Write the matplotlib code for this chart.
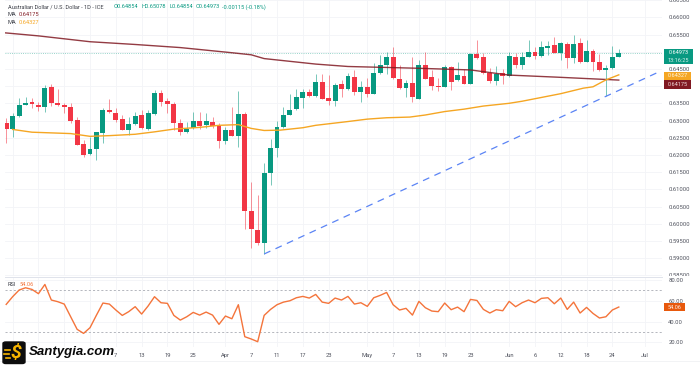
from matplotlib import pyplot as plt
from matplotlib.patches import FancyBboxPatch, Rectangle
from matplotlib.ticker import FormatStrFormatter

plt.rcParams['font.family'] = ['Roboto', 'DejaVu Sans']

# daily candles, bar 0 is 12 Feb, weekdays only
opens = [.6292, .6275, .6313, .6346, .6353, .6344, .6339, .6396, .6352, .6344,
         .6338, .6302, .6231, .6203, .6217, .6265, .6330, .6323, .6304, .6272,
         .6290, .6316, .6275, .6320, .6380, .6357, .6349, .6293, .6266, .6277,
         .6300, .6287, .6295, .6285, .6240, .6271, .6256, .6320, .6038, .5982,
         .5943, .6147, .6219, .6281, .6316, .6332, .6366, .6382, .6371, .6413,
         .6365, .6358, .6406, .6391, .6426, .6382, .6397, .6378, .6438, .6460,
         .6484, .6422, .6394, .6409, .6362, .6462, .6426, .6401, .6398, .6455,
         .6417, .6429, .6407, .6492, .6484, .6439, .6415, .6437, .6428, .6486,
         .6460, .6485, .6499, .6488, .6511, .6519, .6495, .6523, .6483, .6524,
         .6471, .6503, .6471, .6448, .6453, .64854]
closes = [.6275, .6314, .6345, .6352, .6347, .6338, .6394, .6350, .6344, .6339,
          .6300, .6230, .6200, .6218, .6268, .6330, .6325, .6301, .6272, .6289,
          .6314, .6277, .6321, .6380, .6353, .6349, .6293, .6266, .6276, .6300,
          .6285, .6298, .6284, .6240, .6271, .6256, .6320, .6038, .5985, .5943,
          .6147, .6220, .6282, .6317, .6331, .6367, .6382, .6371, .6412, .6363,
          .6357, .6402, .6391, .6428, .6382, .6397, .6376, .6438, .6461, .6485,
          .6423, .6394, .6408, .6367, .6462, .6422, .6400, .6398, .6455, .6413,
          .6431, .6407, .6492, .6482, .6437, .6415, .6435, .6428, .6487, .6460,
          .6485, .6499, .6488, .6513, .6517, .6497, .6525, .6482, .6523, .6470,
          .6501, .6470, .6447, .6454, .6484, .64973]
highs = [.6306, .6321, .6365, .6369, .6365, .6355, .6403, .6405, .6391, .6352,
         .6350, .6311, .6243, .6253, .6268, .6336, .6362, .6336, .6316, .6311,
         .6326, .6331, .6331, .6389, .6389, .6366, .6355, .6304, .6297, .6324,
         .6326, .6321, .6309, .6294, .6282, .6338, .6387, .6326, .6120, .6084,
         .6176, .6245, .6300, .6338, .6377, .6391, .6391, .6391, .6435, .6435,
         .6432, .6408, .6418, .6437, .6447, .6415, .6423, .6466, .6490, .6500,
         .6515, .6461, .6418, .6486, .6476, .6498, .6447, .6423, .6461, .6457,
         .6469, .6449, .6497, .6534, .6495, .6452, .6459, .6449, .6498, .6495,
         .6500, .6534, .6513, .6531, .6532, .6544, .6529, .6529, .6549, .6539,
         .6534, .6507, .6493, .6461, .6517, .65078]
lows = [.6234, .6253, .6311, .6344, .6335, .6329, .6326, .6342, .6342, .6321,
        .6294, .6228, .6193, .6200, .6185, .6234, .6321, .6297, .6271, .6258,
        .6287, .6274, .6272, .6316, .6342, .6321, .6271, .6258, .6263, .6274,
        .6274, .6277, .6277, .6219, .6232, .6255, .6224, .5985, .5930, .5938,
        .5912, .6113, .6195, .6277, .6316, .6331, .6335, .6369, .6369, .6362,
        .6345, .6342, .6369, .6389, .6374, .6355, .6369, .6376, .6435, .6435,
        .6420, .6391, .6369, .6355, .6362, .6420, .6389, .6387, .6396, .6389,
        .6415, .6405, .6406, .6479, .6435, .6408, .6403, .6406, .6426, .6452,
        .6449, .6484, .6478, .6486, .6491, .6495, .6476, .6452, .6466, .6466,
        .6469, .6445, .6445, .6371, .6451, .64854]

ma_slow_bars = [-0.3, 5, 13, 20, 27, 35, 38, 40, 44, 48, 53, 63.6, 72, 78, 85.4, 95]
ma_slow = [.6555, .6546, .6529, .6521, .6512, .6497, .6491, .6480, .6472, .6464,
           .6457, .6452, .6447, .6432, .6426, .64175]
ma_fast_bars = [1, 4, 10, 13, 16, 20, 23, 26, 30, 33, 36, 38, 40, 42.5, 46, 48, 53,
                56, 59, 62.6, 65, 68, 71, 74, 78, 80, 83, 86, 89.5, 91, 93, 95]
ma_fast = [.6274, .6266, .6262, .6254, .6256, .6260, .6267, .6275, .6280, .6286,
           .6288, .6277, .6271, .6272, .6279, .6286, .6297, .6304, .6308, .6310,
           .6316, .6326, .6333, .6342, .6350, .6356, .6367, .6378, .6394, .6398,
           .6418, .64327]

trend_bars = [40, 101.3]
trend_prices = [.5912, .6442]

rsi = [56.6, 64.0, 70.4, 72.6, 71.0, 66.9, 75.8, 60.8, 59.2, 56.9,
       44.7, 32.6, 28.7, 34.2, 46.3, 57.9, 56.9, 51.2, 46.0, 49.6,
       54.4, 47.3, 55.0, 64.0, 58.2, 57.6, 46.0, 41.5, 44.7, 48.9,
       46.3, 49.2, 46.3, 37.4, 45.4, 42.8, 56.3, 25.5, 23.3, 20.7,
       46.0, 51.8, 56.3, 58.8, 60.1, 63.0, 64.3, 62.7, 66.2, 58.8,
       57.6, 62.7, 60.8, 64.3, 56.9, 58.2, 54.7, 63.0, 65.3, 68.1,
       56.3, 51.2, 52.8, 46.3, 59.5, 53.4, 50.2, 49.6, 57.9, 51.5,
       54.0, 49.6, 61.4, 60.4, 51.8, 48.3, 51.5, 50.5, 59.5, 54.4,
       58.2, 60.8, 58.2, 62.4, 63.0, 57.2, 62.7, 51.8, 58.8, 48.3,
       53.7, 47.9, 43.5, 44.7, 51.2, 54.06]

tick_bars = [1, 5, 9, 13, 17, 21, 25, 29, 34, 38, 42, 46, 50, 56, 60, 64, 68, 72,
             78, 82, 86, 90, 94, 99]
tick_labels = ['', '', '', '', '7', '13', '19', '25', 'Apr', '7', '11', '17', '23',
               'May', '7', '13', '19', '23', 'Jun', '6', '12', '18', '24', 'Jul']
price_ticks = [.585, .59, .595, .60, .605, .61, .615, .62, .625, .63, .635, .64,
               .645, .65, .655, .66, .665]
# 0.64000 and 0.65000 sit behind the price tags
price_labels = ['0.58500', '0.59000', '0.59500', '0.60000', '0.60500', '0.61000',
                '0.61500', '0.62000', '0.62500', '0.63000', '0.63500', '',
                '0.64500', '', '0.65500', '0.66000', '0.66500']
rsi_ticks = [20, 40, 60, 80]

GREEN = '#089981'
RED = '#f23645'
DARK_RED = '#801922'
ORANGE = '#f5a623'
RSI_ORANGE = '#f4743b'
GRID = '#f3f4f7'
TEXT = '#50535e'


def price_tag(ax, low, high, color, width=0.041):
    ax.add_patch(Rectangle((1.003, low), width, high - low, color=color, lw=0,
                           transform=ax.get_yaxis_transform(), clip_on=False, zorder=6))


def tag_text(ax, y, text, color='white', x=1.024):
    ax.text(x, y, text, color=color, fontsize=4, ha='center', va='center',
            transform=ax.get_yaxis_transform(), clip_on=False, zorder=7)


def style_axes(ax, ticks):
    for side in ax.spines:
        ax.spines[side].set_visible(False)
    ax.set_xticks(tick_bars)
    ax.set_yticks(ticks)
    ax.yaxis.tick_right()
    ax.tick_params(length=0, labelsize=4.2, labelcolor=TEXT)
    ax.tick_params(axis='y', pad=4.5)
    ax.grid(True, color=GRID, lw=0.6)
    ax.set_axisbelow(True)


fig = plt.figure(figsize=(7, 3.65), dpi=100)
ax = fig.add_axes([5 / 700, 1 - 276.3 / 365, 657 / 700, 276.3 / 365])
ax_rsi = fig.add_axes([5 / 700, 1 - 347 / 365, 657 / 700, 69 / 365])

bars = range(len(opens))
colors = [GREEN if c >= o else RED for o, c in zip(opens, closes)]
ax.vlines(bars, lows, highs, colors=colors, lw=0.7, alpha=0.55, zorder=2)
ax.bar(bars, [abs(c - o) for o, c in zip(opens, closes)],
       bottom=[min(o, c) for o, c in zip(opens, closes)],
       width=0.76, color=colors, lw=0, zorder=3)

ax.plot(ma_slow_bars, ma_slow, color=DARK_RED, lw=1.0, alpha=0.85, zorder=4)
ax.plot(ma_fast_bars, ma_fast, color=ORANGE, lw=1.0, zorder=4)
ax.plot(trend_bars, trend_prices, color='#5b84f5', lw=0.9, dashes=(5.5, 4.5), zorder=4)
ax.axhline(closes[-1], color=GREEN, lw=0.6, ls=':', alpha=0.55, zorder=1)

ax.set_xlim(-0.186, 101.7)
ax.set_ylim(.58471, .66503)
style_axes(ax, price_ticks)
ax.set_yticklabels(price_labels)
ax.tick_params(axis='x', labelbottom=False)

price_tag(ax, .64642, .65078, GREEN, width=0.044)
tag_text(ax, .64985, '0.64973', x=1.025)
tag_text(ax, .64745, '13:16:25', color='#d5f0ea', x=1.025)
price_tag(ax, .64177, .64410, ORANGE)
tag_text(ax, .64295, '0.64327', color='#fff6e0')
price_tag(ax, .63924, .64177, DARK_RED)
tag_text(ax, .64050, '0.64175', color='#f3dcdc')

ax_rsi.plot(bars, rsi, color=RSI_ORANGE, lw=1.0, zorder=3)
ax_rsi.axhline(70, color='#a8abb3', lw=0.6, dashes=(2.5, 2.5))
ax_rsi.axhline(30, color='#a8abb3', lw=0.6, dashes=(2.5, 2.5))
ax_rsi.set_xlim(-0.186, 101.7)
ax_rsi.set_ylim(15.6, 82)
style_axes(ax_rsi, rsi_ticks)
ax_rsi.yaxis.set_major_formatter(FormatStrFormatter('%.2f'))
ax_rsi.set_xticklabels(tick_labels)
ax_rsi.tick_params(axis='x', pad=4)
price_tag(ax_rsi, 50.2, 57.9, '#e8590c', width=0.032)
tag_text(ax_rsi, 54.06, '54.06', color='#fdeee2', x=1.019)
# the RSI pane covers the lower half of the last price label
ax_rsi.add_patch(Rectangle((1.0, 70), 0.06, 14, color='white', lw=0,
                           transform=ax_rsi.get_yaxis_transform(), clip_on=False, zorder=0.2))

# pane separator and bottom edge
fig.add_artist(plt.Line2D([5 / 700, 662 / 700], [1 - 276.5 / 365] * 2, color='#e0e3eb', lw=0.7))
fig.add_artist(plt.Line2D([0, 1], [1 - 360.5 / 365] * 2, color='#f0f1f4', lw=0.6))

# header
fig.text(8 / 700, 1 - 7 / 365, 'Australian Dollar / U.S. Dollar - 1D - ICE', fontsize=4.1,
         color='#3a3d46', va='center')
for px, txt in zip([114, 141.5, 169, 195.5, 222.5],
                   ['O0.64854', 'H0.65078', 'L0.64854', 'C0.64973', '-0.00115 (-0.18%)']):
    fig.text(px / 700, 1 - 7 / 365, txt, fontsize=4.1, color=GREEN, va='center')
fig.text(8 / 700, 1 - 15 / 365, 'MA', fontsize=4.1, color='#3a3d46', va='center')
fig.text(19 / 700, 1 - 15 / 365, '0.64175', fontsize=4.1, color=DARK_RED, va='center')
fig.text(8 / 700, 1 - 23 / 365, 'MA', fontsize=4.1, color='#3a3d46', va='center')
fig.text(19 / 700, 1 - 23 / 365, '0.64327', fontsize=4.1, color=ORANGE, va='center')
fig.text(8 / 700, 1 - 284 / 365, 'RSI', fontsize=4.1, color='#3a3d46', va='center')
fig.text(20 / 700, 1 - 284 / 365, '54.06', fontsize=4.1, color=RSI_ORANGE, va='center')

# site logo
fig.add_artist(FancyBboxPatch((3 / 700, 1 - 363.5 / 365), 22 / 700, 21.5 / 365,
                              boxstyle='round,pad=0,rounding_size=0.004', color='#0d0d0d',
                              lw=1, transform=fig.transFigure, zorder=8))
fig.text(16 / 700, 1 - 352.5 / 365, '$', fontsize=14, color='#f7b500', weight='bold',
         style='italic', ha='center', va='center', zorder=9)
fig.add_artist(plt.Line2D([5 / 700, 10 / 700], [1 - 350 / 365] * 2, color='#f7b500', lw=1.2, zorder=9))
fig.add_artist(plt.Line2D([4 / 700, 9 / 700], [1 - 354 / 365] * 2, color='#f7b500', lw=1.2, zorder=9))
fig.add_artist(plt.Line2D([6 / 700, 10 / 700], [1 - 358 / 365] * 2, color='#f7b500', lw=1.2, zorder=9))
fig.text(29 / 700, 1 - 352 / 365, 'Santygia.com', fontsize=9.5, color='#0a0a0a', weight='bold',
         style='italic', family='Liberation Sans', va='center', zorder=9)

fig.savefig('out.png', dpi=100)
